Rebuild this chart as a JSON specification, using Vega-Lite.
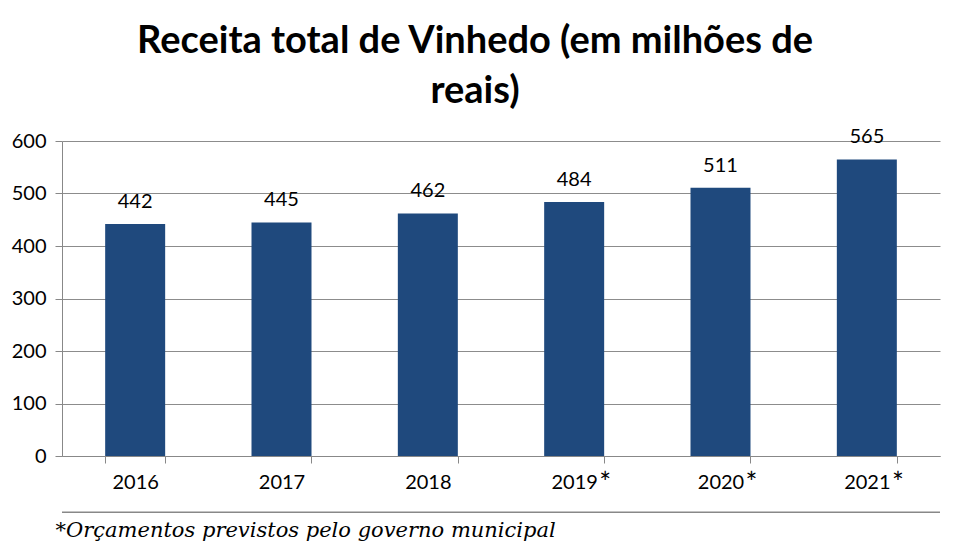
{
  "$schema": "https://vega.github.io/schema/vega-lite/v6.json",
  "autosize": {"type": "none"},
  "width": 878,
  "height": 315,
  "padding": {"left": 62, "top": 141, "right": 17, "bottom": 93},
  "background": "white",
  "title": {
    "text": ["Receita total de Vinhedo (em milhões de", "reais)"],
    "font": "Lato",
    "fontSize": 38,
    "fontWeight": "bold",
    "color": "black",
    "anchor": "middle",
    "dx": -26,
    "offset": 16,
    "lineHeight": 50
  },
  "data": {
    "values": [
      {"ano": "2016", "receita": 442, "prev": ""},
      {"ano": "2017", "receita": 445, "prev": ""},
      {"ano": "2018", "receita": 462, "prev": ""},
      {"ano": "2019", "receita": 484, "prev": "*"},
      {"ano": "2020", "receita": 511, "prev": "*"},
      {"ano": "2021", "receita": 565, "prev": "*"}
    ]
  },
  "encoding": {
    "x": {
      "field": "ano",
      "type": "nominal",
      "sort": null,
      "scale": {"paddingInner": 0.59, "paddingOuter": 0.295},
      "axis": {
        "title": "*Orçamentos previstos pelo governo municipal",
        "titleFont": "DejaVu Serif",
        "titleFontStyle": "italic",
        "titleFontWeight": "normal",
        "titleFontSize": 21,
        "titleColor": "black",
        "titleAnchor": "start",
        "titleAlign": "left",
        "titleBaseline": "alphabetic",
        "titleX": -7,
        "titleY": 80,
        "labelAngle": 0,
        "labelFont": "Lato",
        "labelFontSize": 20,
        "labelColor": "black",
        "labelPadding": 9,
        "domainColor": "#888888",
        "tickColor": "#888888",
        "tickBand": "extent",
        "tickSize": 7
      }
    }
  },
  "layer": [
    {
      "mark": {"type": "bar", "color": "#1F497D"},
      "encoding": {
        "y": {
          "field": "receita",
          "type": "quantitative",
          "scale": {"domain": [0, 600], "nice": false},
          "axis": {
            "title": null,
            "values": [0, 100, 200, 300, 400, 500, 600],
            "labelFont": "Lato",
            "labelFontSize": 20,
            "labelColor": "black",
            "labelPadding": 9,
            "gridColor": "#8c8c8c",
            "domainColor": "#888888",
            "tickColor": "#888888",
            "tickSize": 7
          }
        }
      }
    },
    {
      "mark": {"type": "text", "font": "Lato", "fontSize": 20, "color": "black", "dy": -22, "baseline": "middle"},
      "encoding": {
        "y": {"field": "receita", "type": "quantitative"},
        "text": {"field": "receita", "type": "quantitative"}
      }
    },
    {
      "mark": {"type": "text", "font": "Lato", "fontSize": 28, "color": "black", "dx": 31, "dy": 29, "baseline": "middle"},
      "encoding": {
        "y": {"datum": 0},
        "text": {"field": "prev"}
      }
    },
    {
      "data": {"values": [{"pos": -107}]},
      "mark": {"type": "rule", "color": "#888888", "strokeWidth": 1.5},
      "encoding": {
        "x": null,
        "y": {"field": "pos", "type": "quantitative"}
      }
    }
  ],
  "config": {
    "view": {"stroke": null},
    "axis": {"gridWidth": 1}
  }
}
